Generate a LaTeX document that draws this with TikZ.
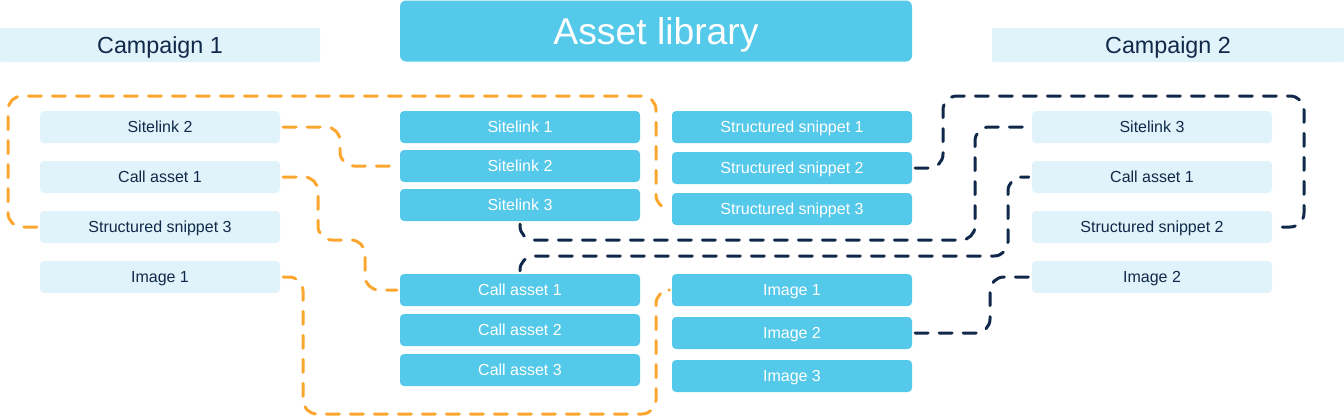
\documentclass[tikz,border=0pt]{standalone}
\usepackage{fontspec}
\setmainfont{Liberation Sans}
\usetikzlibrary{positioning}
\definecolor{libfill}{HTML}{55C9E9}
\definecolor{campfill}{HTML}{E0F3FA}
\definecolor{navy}{HTML}{10294A}
\definecolor{amber}{HTML}{FBA62F}

\begin{document}
\begin{tikzpicture}[x=1pt, y=-1pt,
    libbox/.style={fill=libfill, text=white, rounded corners=4pt, minimum width=240pt, minimum height=32pt, inner sep=0pt, text height=11.3pt, text depth=0pt, font=\fontsize{16}{18}\selectfont},
    campbox/.style={libbox, fill=campfill, text=navy},
    headbox/.style={libbox, minimum height=34pt, text height=16.6pt, font=\fontsize{23.3}{26}\selectfont},
    link/.style={line width=3pt, line cap=round, dash pattern=on 13pt off 11pt, rounded corners=14pt, shorten <=3pt, shorten >=3pt},
]
\useasboundingbox (0,0) rectangle (1344,418);

\node[headbox, minimum width=512pt, minimum height=61pt, rounded corners=6pt, text height=26.5pt, font=\fontsize{37.3}{40}\selectfont] (lib) at (656,31) {Asset library};
\node[headbox, fill=campfill, text=navy, minimum width=320pt, rounded corners=2pt] (camp1) at (160,45) {Campaign 1};
\node[headbox, fill=campfill, text=navy, minimum width=352pt, rounded corners=2pt] (camp2) at (1168,45) {Campaign 2};

\node[campbox] (c1sl2) at (160,127) {Sitelink 2};
\node[campbox] (c1ca1) at (160,177) {Call asset 1};
\node[campbox] (c1ss3) at (160,227) {Structured snippet 3};
\node[campbox] (c1img1) at (160,277) {Image 1};

\node[libbox] (libsl1) at (520,127) {Sitelink 1};
\node[libbox] (libsl2) at (520,166) {Sitelink 2};
\node[libbox] (libsl3) at (520,205) {Sitelink 3};
\node[libbox] (libca1) at (520,290) {Call asset 1};
\node[libbox] (libca2) at (520,330) {Call asset 2};
\node[libbox] (libca3) at (520,370) {Call asset 3};

\node[libbox] (libss1) at (792,127) {Structured snippet 1};
\node[libbox] (libss2) at (792,168) {Structured snippet 2};
\node[libbox] (libss3) at (792,209) {Structured snippet 3};
\node[libbox] (libimg1) at (792,290) {Image 1};
\node[libbox] (libimg2) at (792,333) {Image 2};
\node[libbox] (libimg3) at (792,376) {Image 3};

\node[campbox] (c2sl3) at (1152,127) {Sitelink 3};
\node[campbox] (c2ca1) at (1152,177) {Call asset 1};
\node[campbox] (c2ss2) at (1152,227) {Structured snippet 2};
\node[campbox] (c2img2) at (1152,277) {Image 2};

\draw[link, amber] (c1ss3.west) -| (8,96) -| (656,209) -- (libss3.west);
\draw[link, amber] (c1sl2.east) -- (340,127) |- (libsl2.west);
\draw[link, amber] (c1ca1.east) -| (318,240) -| (365,290) -- (libca1.west);
\draw[link, amber] (c1img1.east) -| (303,414) -| (656,290) -- (libimg1.west);

\draw[link, navy] (libss2.east) -| (943,96) -| (1304,227) -- (c2ss2.east);
\draw[link, navy] (libsl3.south) |- (975,240) |- (c2sl3.west);
\draw[link, navy] (libca1.north) |- (1008,256) |- (c2ca1.west);
\draw[link, navy] (libimg2.east) -| (990,277) -- (c2img2.west);
\end{tikzpicture}
\end{document}
